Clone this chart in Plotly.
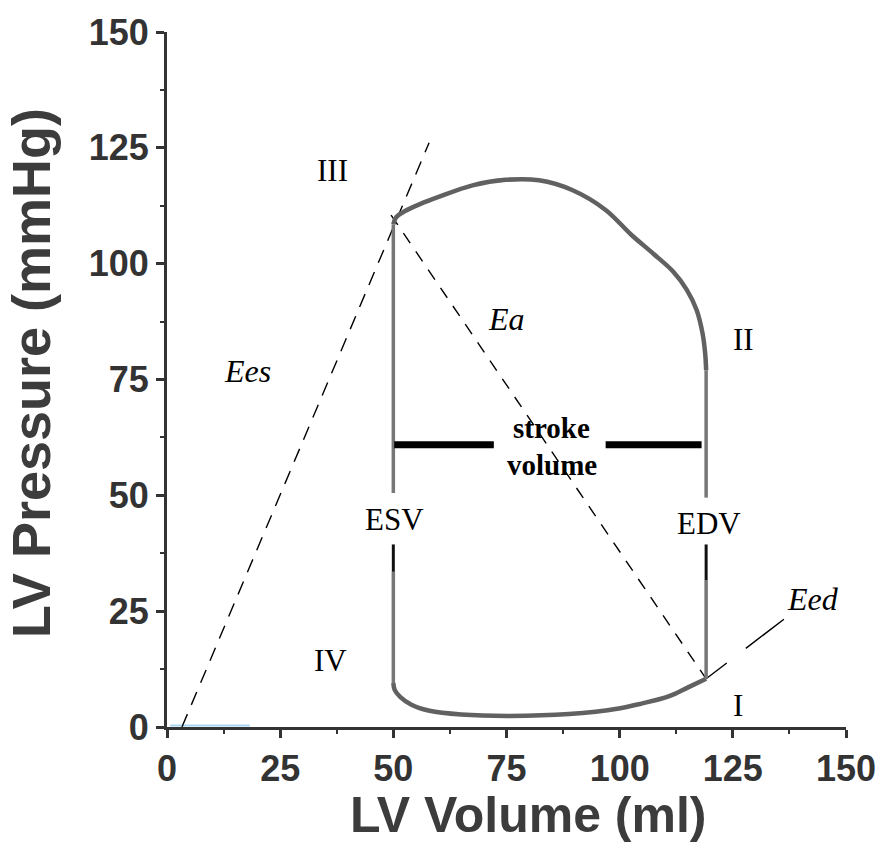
import plotly.graph_objects as go

# ---- data (LV volume in ml, LV pressure in mmHg) ----
ejection_v = [50.0, 50.6, 52.5, 56.0, 60.0, 67.5, 74.8, 82.2, 89.5, 96.9, 102.5, 107.5, 111.8, 114.8, 117.0, 118.3, 118.9, 119.1]
ejection_p = [108.5, 110.0, 111.3, 112.9, 114.4, 116.9, 118.1, 118.0, 115.9, 111.6, 106.3, 102.1, 98.3, 94.4, 90.0, 85.0, 80.5, 77.0]

filling_v = [119.1, 115.0, 110.8, 105.0, 99.8, 88.8, 75.6, 65.0, 58.0, 54.0, 51.5, 50.3, 50.0]
filling_p = [10.4, 8.5, 6.6, 5.1, 4.0, 2.8, 2.4, 2.7, 3.5, 4.8, 6.5, 8.0, 9.5]

esv = 50.0
edv = 119.1
esv_upper_p = [50.5, 108.5]
esv_black_p = [33.5, 39.4]
esv_lower_p = [9.5, 33.5]
edv_upper_p = [49.5, 77.0]
edv_black_p = [31.7, 39.4]
edv_lower_p = [10.4, 31.7]

sv_level = 60.9
sv_left_v = [50.2, 72.2]
sv_right_v = [96.9, 118.1]

ees_v = [3.3, 57.9]
ees_p = [0.0, 126.1]
ea_v = [49.5, 119.1]
ea_p = [110.5, 10.4]
eed_v = [119.1, 137.0]
eed_p = [10.4, 23.8]

baseline_v = [0.7, 18.3]
baseline_p = [0.35, 0.35]

ticks = [0, 25, 50, 75, 100, 125, 150]

roman_labels = ["III", "II", "IV", "I"]
roman_v = [36.6, 127.3, 36.1, 126.2]
roman_p = [120.2, 83.7, 14.3, 4.7]

vol_labels = ["ESV", "EDV"]
vol_label_v = [50.2, 119.8]
vol_label_p = [44.7, 43.9]

elast_labels = ["Ees", "Ea", "Eed"]
elast_v = [17.8, 75.0, 142.8]
elast_p = [76.8, 88.1, 27.7]

sv_text = ["stroke", "volume"]
sv_text_v = [85.0, 85.0]
sv_text_p = [64.6, 56.5]

# ---- figure ----
LOOP = "#616161"
fig = go.Figure()

def line(x, y, color, width, dash="solid", shape="linear"):
    fig.add_trace(go.Scatter(x=x, y=y, mode="lines", showlegend=False, hoverinfo="skip",
                             line=dict(color=color, width=width, dash=dash, shape=shape)))

line(baseline_v, baseline_p, "#a9d5f2", 2)
line(ees_v, ees_p, "black", 1.4, dash="14px,10px")
line(ea_v, ea_p, "black", 1.4, dash="12px,10px")
line(eed_v, eed_p, "black", 1.4, dash="26px,24px,48px,200px")

line(ejection_v, ejection_p, LOOP, 4.5, shape="spline")
line(filling_v, filling_p, LOOP, 4.5, shape="spline")
line([esv, esv], esv_upper_p, "#777777", 3.5)
line([esv, esv], esv_lower_p, "#777777", 3.5)
line([esv, esv], esv_black_p, "#111111", 3)
line([edv, edv], edv_upper_p, "#777777", 3.5)
line([edv, edv], edv_lower_p, "#777777", 3.5)
line([edv, edv], edv_black_p, "#111111", 3)

fig.add_trace(go.Scatter(x=sv_left_v, y=[sv_level, sv_level], mode="lines", showlegend=False,
                         hoverinfo="skip", line=dict(color="black", width=7)))
fig.add_trace(go.Scatter(x=sv_right_v, y=[sv_level, sv_level], mode="lines", showlegend=False,
                         hoverinfo="skip", line=dict(color="black", width=7)))

SERIF = "Liberation Serif, Times New Roman, serif"
for t, x, y in zip(roman_labels, roman_v, roman_p):
    fig.add_annotation(x=x, y=y, text=t, showarrow=False,
                       font=dict(family=SERIF, size=31, color="black"))
for t, x, y in zip(vol_labels, vol_label_v, vol_label_p):
    fig.add_annotation(x=x, y=y, text=t, showarrow=False,
                       font=dict(family=SERIF, size=31, color="black"))
for t, x, y in zip(elast_labels, elast_v, elast_p):
    fig.add_annotation(x=x, y=y, text="<i>" + t + "</i>", showarrow=False,
                       font=dict(family=SERIF, size=32, color="black"))
for t, x, y in zip(sv_text, sv_text_v, sv_text_p):
    fig.add_annotation(x=x, y=y, text="<b>" + t + "</b>", showarrow=False,
                       font=dict(family=SERIF, size=29, color="black"))

SANS = "Liberation Sans, Arial, sans-serif"
fig.add_annotation(xref="paper", yref="paper", x=0.533, y=-0.127, xanchor="center", yanchor="middle",
                   text="<b>LV Volume (ml)</b>",
                   showarrow=False, font=dict(family=SANS, size=50, color="#3c3c3c"))
fig.add_annotation(xref="paper", yref="paper", x=-0.201, y=0.5085, xanchor="center", yanchor="middle",
                   text="<b>LV Pressure (mmHg)</b>",
                   textangle=-90, showarrow=False, font=dict(family=SANS, size=54, color="#3c3c3c"))

axis_common = dict(range=[0, 150], tickvals=ticks, ticktext=[str(t) for t in ticks],
                   showgrid=False, zeroline=False, showline=True, linecolor="#333333", linewidth=3,
                   ticks="outside", ticklen=8, tickwidth=3, tickcolor="#333333",
                   tickfont=dict(family=SANS, size=36, color="#333333", weight="bold"),
                   minor=dict(ticks="outside", ticklen=4, tickwidth=2, tickcolor="#333333",
                              tickvals=[12.5, 37.5, 62.5, 87.5, 112.5, 137.5]))
fig.update_xaxes(**axis_common)
fig.update_yaxes(**axis_common)

fig.update_layout(width=888, height=856, margin=dict(l=167, r=40, t=23, b=129),
                  paper_bgcolor="white", plot_bgcolor="white")

fig.write_html("out.html")
